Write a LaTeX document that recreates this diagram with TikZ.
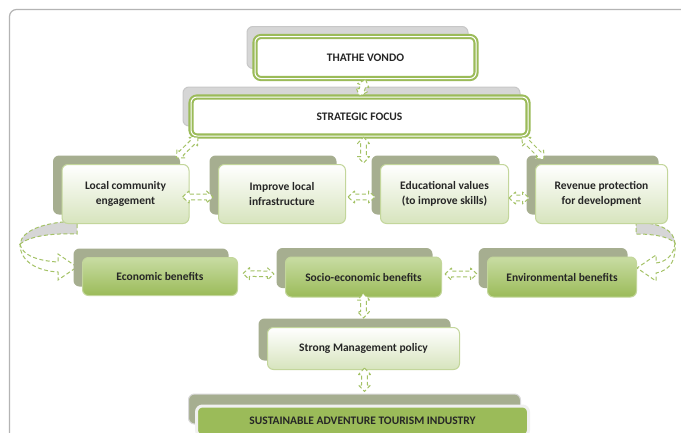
\documentclass[tikz,border=0pt]{standalone}
\usepackage{fontspec}
\setmainfont{Carlito}
\usetikzlibrary{calc}

\definecolor{ogreen}{HTML}{9BBB59}
\definecolor{palegreen}{HTML}{C3D69B}
\definecolor{mistgreen}{HTML}{D7E4BD}
\definecolor{leafgreen}{HTML}{C8DCA3}
\definecolor{shadowgreen}{HTML}{A6AE90}
\definecolor{shadowgray}{HTML}{D6D6D6}
\definecolor{inkgray}{HTML}{262626}
\definecolor{framegray}{HTML}{B4B4B4}
\definecolor{arrowgreen}{HTML}{A4C266}

% dashed block arrow with a head at both ends
\newcommand{\dualarrow}[2]{%
  \coordinate (arrA) at (#1);
  \coordinate (arrB) at (#2);
  \coordinate (arrP) at ($(arrA)!6.5pt!(arrB)$);
  \coordinate (arrQ) at ($(arrB)!6.5pt!(arrA)$);
  \draw[linkarrow] (arrA) -- ($(arrP)!6pt!90:(arrB)$) -- ($(arrP)!2.8pt!90:(arrB)$)
    -- ($(arrQ)!2.8pt!-90:(arrA)$) -- ($(arrQ)!6pt!-90:(arrA)$) -- (arrB)
    -- ($(arrQ)!6pt!90:(arrA)$) -- ($(arrQ)!2.8pt!90:(arrA)$)
    -- ($(arrP)!2.8pt!-90:(arrB)$) -- ($(arrP)!6pt!-90:(arrB)$) -- cycle;}

\tikzset{
  every node/.style={font=\bfseries\fontsize{11.5}{15}\selectfont, text=inkgray,
    align=center, rounded corners=6pt, inner sep=0pt},
  headbox/.style={draw=ogreen, line width=2.1pt, double=white, double distance=1pt,
    fill=white, preaction={fill=shadowgray, draw=black!22, line width=1pt,
    transform canvas={shift={(-8pt,10pt)}}}},
  aimbox/.style={draw=palegreen, line width=1pt, top color=white, bottom color=mistgreen,
    preaction={fill=shadowgreen, transform canvas={shift={(-9pt,9pt)}}}},
  gainbox/.style={draw=palegreen, line width=1pt, top color=leafgreen, bottom color=ogreen,
    preaction={fill=shadowgreen, transform canvas={shift={(-9pt,9pt)}}}},
  industrybox/.style={fill=ogreen, draw=black!6, line width=3pt,
    preaction={fill=shadowgreen, draw=black!15, line width=1pt,
    transform canvas={shift={(-8pt,12pt)}}}},
  linkarrow/.style={draw=arrowgreen, fill=white, line width=1pt, line join=round,
    dash pattern=on 4pt off 2.5pt},
  bendarrow/.style={draw=arrowgreen, line width=1pt, dash pattern=on 4pt off 2.5pt}
}

\begin{document}
\begin{tikzpicture}[x=1pt, y=-1pt]
  \useasboundingbox[fill=white] (0,0) rectangle (681,432);
  \draw[framegray, line width=1.2pt, rounded corners=7pt] (9.5,440) -- (9.5,9.5) -- (690,9.5);

  % curved arrows at both sides
  \draw[bendarrow, fill=shadowgray] (77,221) .. controls (45,222) and (22,230) .. (20,244)
    .. controls (30,236) and (52,233) .. (77,234) -- cycle;
  \draw[bendarrow] (20,244) .. controls (22,256) and (40,261) .. (58,262) -- (58,254)
    -- (77,267) -- (58,280) -- (58,272) .. controls (38,271) and (20,262) .. (20,244);
  \draw[bendarrow, fill=shadowgray] (636,222) .. controls (660,223) and (674,230) .. (675,243)
    .. controls (668,236) and (652,234) .. (636,234) -- cycle;
  \draw[bendarrow] (675,243) .. controls (674,256) and (665,262) .. (656,263) -- (656,255)
    -- (637,268) -- (656,281) -- (656,273) .. controls (672,270) and (676,258) .. (675,243);

  % boxes
  \node[headbox, minimum width=221pt, minimum height=42pt] (vondo) at (365.5,57.5) {THATHE VONDO};
  \node[headbox, minimum width=337pt, minimum height=39pt] (focus) at (359.5,116.5) {STRATEGIC FOCUS};

  \node[aimbox, minimum width=127pt, minimum height=59pt] (local) at (125.5,194) {Local community\\engagement};
  \node[aimbox, minimum width=127pt, minimum height=59pt] (infra) at (282,194) {Improve local\\infrastructure};
  \node[aimbox, minimum width=128pt, minimum height=59pt] (skills) at (444.5,194) {Educational values\\(to improve skills)};
  \node[aimbox, minimum width=132pt, minimum height=59pt] (revenue) at (601.5,194) {Revenue protection\\for development};

  \node[gainbox, minimum width=155pt, minimum height=38pt] (econ) at (160,276.5) {Economic benefits};
  \node[gainbox, minimum width=156pt, minimum height=40pt] (socio) at (363.5,277) {Socio-economic benefits};
  \node[gainbox, minimum width=149pt, minimum height=40pt] (envir) at (562,277) {Environmental benefits};

  \node[aimbox, minimum width=192pt, minimum height=42pt] (policy) at (363.5,348.5) {Strong Management policy};
  \node[industrybox, minimum width=332pt, minimum height=30pt] (industry) at (362.5,421) {SUSTAINABLE ADVENTURE TOURISM INDUSTRY};

  % connectors
  \dualarrow{vondo.south}{focus.north}
  \dualarrow{$(focus.south west)+(8,0)$}{$(local.north east)+(-13,-6)$}
  \coordinate (gap) at ($(focus.south)+(4,26)$);
  \dualarrow{$(focus.south)+(4,0)$}{gap}
  \dualarrow{$(focus.south east)+(-7,0)$}{$(revenue.north west)+(9,-5)$}

  \dualarrow{$(local.east)+(-7,3)$}{$(infra.west)+(-5,3)$}
  \dualarrow{$(infra.east)+(2,3)$}{$(skills.west)+(-5,3)$}
  \dualarrow{$(skills.east)+(0,4)$}{$(revenue.west)+(-6,4)$}

  \dualarrow{$(econ.east)+(5,-3)$}{$(socio.west)+(-11,-3)$}
  \dualarrow{$(socio.east)+(3,-3)$}{$(envir.west)+(-10,-3)$}

  \dualarrow{$(socio.south)+(0,-4)$}{$(policy.north)+(0,-9)$}
  \dualarrow{$(policy.south)+(1,-2)$}{$(industry.north)+(2,-13)$}
\end{tikzpicture}
\end{document}
